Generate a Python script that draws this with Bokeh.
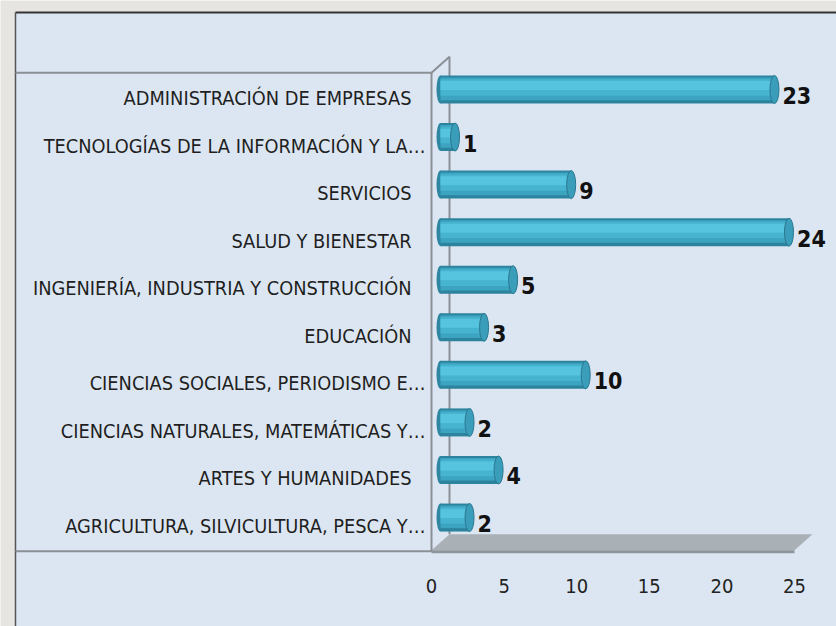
from bokeh.plotting import figure
from bokeh.models import Range1d, ColumnDataSource
from bokeh.core.properties import value
from bokeh.embed import file_html
from bokeh.resources import INLINE

# ---------------- data ----------------
categories = [
    "ADMINISTRACIÓN DE EMPRESAS",
    "TECNOLOGÍAS DE LA INFORMACIÓN Y LA…",
    "SERVICIOS",
    "SALUD Y BIENESTAR",
    "INGENIERÍA, INDUSTRIA Y CONSTRUCCIÓN",
    "EDUCACIÓN",
    "CIENCIAS SOCIALES, PERIODISMO E…",
    "CIENCIAS NATURALES, MATEMÁTICAS Y…",
    "ARTES Y HUMANIDADES",
    "AGRICULTURA, SILVICULTURA, PESCA Y…",
]
counts = [23, 1, 9, 24, 5, 3, 10, 2, 4, 2]
x_ticks = [0, 5, 10, 15, 20, 25]

# ---------------- layout (pixels) ----------------
W, H = 836, 626
PX_PER_UNIT = 14.52          # horizontal pixels per value unit
ROW_PX = 47.56               # vertical pixels per category row
X0_PX = 431                  # x of value 0 (front plane)
ROW0_PX = 98                 # y of first category centre
TICK_LABEL_PX = 585          # y of the value-axis labels
N = len(categories)
XMAX = x_ticks[-1]

def dx(px):
    return px / PX_PER_UNIT

def dy(px):
    return px / ROW_PX

def X(fig_px):
    return (fig_px - X0_PX) / PX_PER_UNIT

def Y(fig_px):
    return (fig_px - ROW0_PX) / ROW_PX

FONT = value("DejaVu Sans Condensed, Liberation Sans Narrow, Roboto, sans-serif")
OUTER = "#e6e5e2"
PANEL = "#dce6f2"
WALL_LINE = "#8a9096"

p = figure(
    width=W, height=H,
    x_range=Range1d(X(0), X(W)),
    y_range=Range1d(Y(H), Y(0)),
    output_backend="svg", toolbar_location=None,
    x_axis_location=None, y_axis_location=None,
)
p.min_border = 0
p.outline_line_color = None
p.background_fill_color = OUTER
p.border_fill_color = OUTER
p.xgrid.visible = False
p.ygrid.visible = False

# panel
px_left, px_top = 15, 12
p.quad(left=X(px_left), right=X(W + 20), top=Y(px_top), bottom=Y(H + 40),
       fill_color=PANEL, line_color=None)
p.segment(x0=X(px_left), y0=Y(px_top), x1=X(W + 20), y1=Y(px_top),
          line_color="#333333", line_width=2)
p.segment(x0=X(px_left), y0=Y(px_top), x1=X(px_left), y1=Y(H + 40),
          line_color="#555555", line_width=1.5)

# 3D box geometry
DEPTH_X, DEPTH_Y = dx(18), dy(16)
k_top, k_bot = -0.5 - dy(2), N - 0.5

# back wall line & diagonal
p.line(x=[0, DEPTH_X, DEPTH_X], y=[k_top, k_top - DEPTH_Y, k_bot - DEPTH_Y],
       line_color=WALL_LINE, line_width=2)

# floor
p.patch(x=[0, DEPTH_X, XMAX + DEPTH_X, XMAX],
        y=[k_bot, k_bot - DEPTH_Y, k_bot - DEPTH_Y, k_bot],
        fill_color="#a9b0b6", line_color=None)
p.quad(left=0, right=XMAX, top=k_bot, bottom=k_bot + dy(3),
       fill_color="#8e969d", line_color=None)

# wall outline (front)
p.line(x=[X(px_left), 0, 0, X(px_left)], y=[k_top, k_top, k_bot + dy(1), k_bot + dy(1)],
       line_color=WALL_LINE, line_width=2)

# ---------------- bars (cylinders) ----------------
BAR_OFF_X = dx(9)
BAR_OFF_Y = dy(9)
BAR_H_PX = 28
ks = list(range(N))
bar_y = [k - BAR_OFF_Y for k in ks]
bar_end = [BAR_OFF_X + v for v in counts]
src = ColumnDataSource(dict(y=bar_y, left=[BAR_OFF_X] * N, right=bar_end,
                            k=ks, v=counts))

# left rounded end
p.ellipse(x="left", y="y", width=8, height=BAR_H_PX, width_units="screen",
          height_units="screen", source=src, fill_color="#2f86a0", line_color=None)
# body bands: (top fraction, bottom fraction, colour)
bands = [(0.0, 1.0, "#2c839d"), (0.07, 0.88, "#3ca4c1"),
         (0.13, 0.72, "#46b3d0"), (0.2, 0.52, "#56c3df")]
for t, b, c in bands:
    yc = [y - dy(BAR_H_PX) / 2 + dy(BAR_H_PX) * (t + b) / 2 for y in bar_y]
    s = ColumnDataSource(dict(y=yc, left=[BAR_OFF_X] * N, right=bar_end))
    p.hbar(y="y", left="left", right="right", height=dy(BAR_H_PX) * (b - t),
           source=s, fill_color=c, line_color=None)
# right end face
p.ellipse(x="right", y="y", width=9, height=BAR_H_PX, width_units="screen",
          height_units="screen", source=src, fill_color="#3a9dba",
          line_color="#2a7890", line_width=1)

# value labels
lab = ColumnDataSource(dict(x=[e + dx(8) for e in bar_end],
                            y=[k - dy(3) for k in ks],
                            t=[str(v) for v in counts]))
p.text(x="x", y="y", text="t", source=lab, text_font=FONT,
       text_font_style="bold", text_font_size="23px", text_color="#111111",
       text_align="left", text_baseline="middle")

# category labels
cat_x = [dx(-6) if c.endswith("…") else dx(-20) for c in categories]
cat = ColumnDataSource(dict(x=cat_x, y=ks, t=categories))
p.text(x="x", y="y", text="t", source=cat, text_font=FONT,
       text_font_size="19.8px", text_color="#1f1f1f",
       text_align="right", text_baseline="middle")

# value-axis tick labels
ticks = ColumnDataSource(dict(x=x_ticks, y=[Y(TICK_LABEL_PX)] * len(x_ticks),
                              t=[str(t) for t in x_ticks]))
p.text(x="x", y="y", text="t", source=ticks, text_font=FONT,
       text_font_size="20px", text_color="#222222",
       text_align="center", text_baseline="middle")

open("out.html", "w").write(file_html(p, INLINE))
